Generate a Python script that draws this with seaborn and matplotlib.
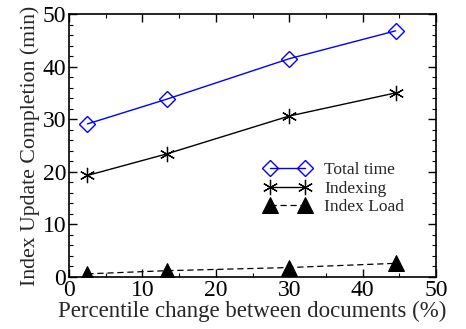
import matplotlib
matplotlib.use("Agg")
import matplotlib.pyplot as plt
import seaborn as sns
from matplotlib.ticker import MultipleLocator

# values
pct_change = [2.5, 13.3, 30.0, 44.5]
total_time = [29.1, 33.8, 41.5, 46.8]
indexing = [19.3, 23.4, 30.6, 35.0]
index_load = [0.6, 1.2, 1.8, 2.6]

sns.set_style("ticks")
plt.rcParams["font.family"] = ["Liberation Serif", "DejaVu Serif"]

fig, ax = plt.subplots(figsize=(4.66, 3.29), dpi=100)
fig.subplots_adjust(left=69 / 466, right=436 / 466, top=1 - 14 / 329, bottom=1 - 277 / 329)

sns.lineplot(x=pct_change, y=total_time, ax=ax, color="#0000ff", lw=1.0,
             marker="D", markersize=8.5, markerfacecolor="none",
             markeredgecolor="#0000ff", markeredgewidth=1.0, label="Total time")
sns.lineplot(x=pct_change, y=indexing, ax=ax, color="black", lw=1.0,
             marker=(6, 2, 0), markersize=11, markeredgewidth=0.9,
             markeredgecolor="black", label="Indexing")
sns.lineplot(x=pct_change, y=index_load, ax=ax, color="black", lw=0.9,
             dashes=(5, 3), marker="^", markersize=11,
             markerfacecolor="black", markeredgecolor="black", label="Index Load")

ax.set_xlim(0, 50)
ax.set_ylim(0, 50)
ax.xaxis.set_major_locator(MultipleLocator(10))
ax.xaxis.set_minor_locator(MultipleLocator(5))
ax.yaxis.set_major_locator(MultipleLocator(10))
ax.yaxis.set_minor_locator(MultipleLocator(2))
ax.tick_params(which="both", direction="in", top=True, right=True, colors="black")
ax.tick_params(which="major", length=6, width=1.0, labelsize=17, pad=2)
ax.tick_params(which="minor", length=3, width=0.8)
for s in ax.spines.values():
    s.set_linewidth(1.2)
    s.set_color("black")

ax.set_xlabel("Percentile change between documents (%)", fontsize=16.5, labelpad=0)
ax.set_ylabel("Index Update Completion (min)", fontsize=15.7, labelpad=2)

leg = ax.legend(loc="upper left", bbox_to_anchor=(0.534, 0.438), frameon=False,
                fontsize=12.5, numpoints=2, handlelength=2.6, handletextpad=0.8,
                labelspacing=0.15, borderaxespad=0, borderpad=0)

fig.savefig("out.png", dpi=100)
